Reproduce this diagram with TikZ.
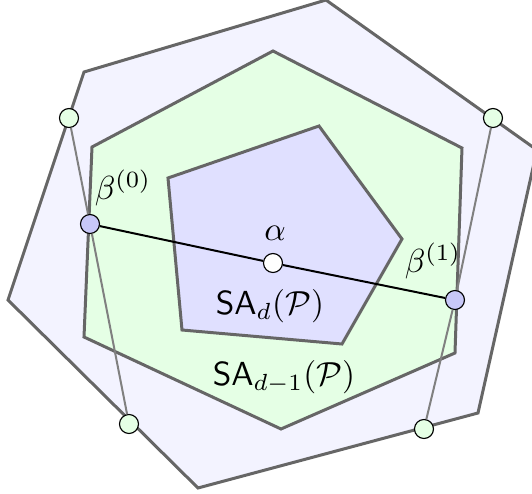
\documentclass[tikz,border=0pt]{standalone}
\usepackage{tikz}
\usepackage{xcolor}
\usepackage{amsmath}
\usetikzlibrary{positioning, calc}
\definecolor{outerfill}{RGB}{243,243,255}
\definecolor{midfill}{RGB}{229,255,229}
\definecolor{innerfill}{RGB}{224,224,255}
\definecolor{edgegray}{RGB}{102,102,102}
\definecolor{pointblue}{RGB}{200,200,248}

\begin{document}
\begin{tikzpicture}[
        x=0.3pt, y=-0.3pt,
        poly/.style={draw=edgegray, line width=0.9pt, line join=miter},
        pt/.style={circle, draw, line width=0.35pt, inner sep=0pt, minimum size=5.7pt},
        bpt/.style={pt, fill=pointblue},
        gpt/.style={pt, fill=midfill},
        apt/.style={pt, fill=white},
        guide/.style={draw=gray, line width=0.6pt},
        seg/.style={draw=black, line width=0.6pt}
    ]
        \path[use as bounding box, clip] (0,0) rectangle (532,494);

        % Polytopes
        \path[poly, fill=outerfill] (84,72) -- (326,0) -- (537,150) -- (478,413) -- (198,488) -- (8,300) -- cycle;
        \path[poly, fill=midfill] (92,147) -- (273,51) -- (462,148) -- (455,353) -- (281,429) -- (84,337) -- cycle;
        \path[poly, fill=innerfill] (168,178) -- (319,126) -- (402,239) -- (342,344) -- (182,330) -- cycle;

        % Points
        \node[bpt] (b0) at (90,224) {};
        \node[bpt] (b1) at (455,300) {};
        \node[apt] (alpha) at (273,263) {};
        \node[gpt] (gtl) at (69,118) {};
        \node[gpt] (gbl) at (129,424) {};
        \node[gpt] (gtr) at (493,118) {};
        \node[gpt] (gbr) at (424,429) {};

        % Segments
        \draw[guide] (gtl) -- (b0) -- (gbl);
        \draw[guide] (gtr) -- (b1) -- (gbr);
        \draw[seg] (b0) -- (alpha) -- (b1);

        % Labels
        \node (lb0) at (123,188) {$\beta^{(0)}$};
        \node (lb1) at (433,261) {$\beta^{(1)}$};
        \node (la) at (275,233) {$\alpha$};
        \node (sad) at (270,306) {$\mathsf{SA}_d(\mathcal{P})$};
        \node (sadm) at (284,377) {$\mathsf{SA}_{d-1}(\mathcal{P})$};

    \end{tikzpicture}
\end{document}
